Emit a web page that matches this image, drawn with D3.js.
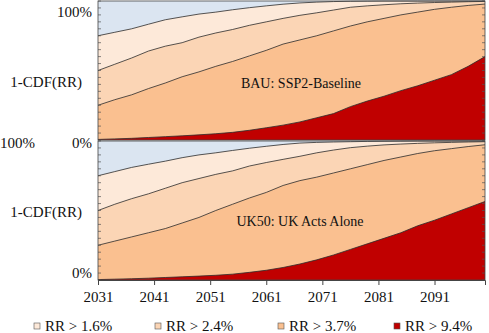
<!DOCTYPE html>
<html>
<head>
<meta charset="utf-8">
<script src="https://cdn.jsdelivr.net/npm/d3@7"></script>
<style>
  body { margin: 0; background: #fff; }
  svg text { font-family: "Liberation Serif", "Times New Roman", serif; fill: #111; }
</style>
</head>
<body>
<svg id="chart" width="489" height="333"></svg>
<script>
const width = 489;
const height = 333;

// years sampled every 3 years
const years = [2031, 2034, 2037, 2040, 2043, 2046, 2049, 2052, 2055, 2058, 2061, 2064,
               2067, 2070, 2073, 2076, 2079, 2082, 2085, 2088, 2091, 2094, 2097, 2100];
const xTicks = [2031, 2041, 2051, 2061, 2071, 2081, 2091];
const thresholds = ['RR > 1.6%', 'RR > 2.4%', 'RR > 3.7%', 'RR > 9.4%'];
const bandColors = ['#fde9d9', '#fbd5b5', '#fac090', '#c00000'];
const topColor = '#dbe5f1';

// BAU: SSP2-Baseline, 1-CDF(RR) for each threshold
const bau16 = [0.75, 0.775, 0.80, 0.833, 0.865, 0.886, 0.906, 0.92, 0.937, 0.952, 0.965, 0.977,
               0.986, 0.992, 0.996, 0.998, 0.999, 1, 1, 1, 1, 1, 1, 1];
const bau24 = [0.50, 0.545, 0.59, 0.64, 0.675, 0.70, 0.74, 0.77, 0.795, 0.825, 0.85, 0.875,
               0.897, 0.915, 0.935, 0.955, 0.965, 0.973, 0.98, 0.985, 0.989, 0.992, 0.995, 0.997];
const bau37 = [0.25, 0.29, 0.325, 0.37, 0.41, 0.455, 0.49, 0.53, 0.565, 0.605, 0.645, 0.69,
               0.72, 0.75, 0.785, 0.82, 0.85, 0.875, 0.90, 0.92, 0.94, 0.955, 0.968, 0.978];
const bau94 = [0.004, 0.008, 0.012, 0.018, 0.024, 0.03, 0.037, 0.045, 0.055, 0.07, 0.088, 0.107,
               0.13, 0.16, 0.19, 0.24, 0.28, 0.315, 0.355, 0.39, 0.43, 0.47, 0.53, 0.60];

// UK50: UK Acts Alone
const uk16 = [0.75, 0.78, 0.81, 0.833, 0.855, 0.88, 0.90, 0.915, 0.932, 0.948, 0.962, 0.975,
              0.985, 0.99, 0.993, 0.995, 0.997, 0.998, 0.999, 1, 1, 1, 1, 1];
const uk24 = [0.50, 0.545, 0.585, 0.62, 0.66, 0.70, 0.73, 0.76, 0.785, 0.82, 0.845, 0.868,
              0.89, 0.915, 0.935, 0.952, 0.963, 0.972, 0.978, 0.983, 0.987, 0.99, 0.993, 0.995];
const uk37 = [0.25, 0.28, 0.31, 0.34, 0.37, 0.41, 0.45, 0.50, 0.545, 0.59, 0.63, 0.68,
              0.715, 0.74, 0.77, 0.80, 0.83, 0.86, 0.885, 0.91, 0.93, 0.945, 0.96, 0.973];
const uk94 = [0.003, 0.006, 0.009, 0.013, 0.018, 0.023, 0.028, 0.034, 0.042, 0.055, 0.07, 0.09,
              0.115, 0.145, 0.18, 0.22, 0.26, 0.30, 0.34, 0.39, 0.43, 0.475, 0.52, 0.565];

const panels = [
  { label: 'BAU: SSP2-Baseline', series: [bau16, bau24, bau37, bau94], top: 1, bottom: 140, lx: 301, ly: 83 },
  { label: 'UK50: UK Acts Alone', series: [uk16, uk24, uk37, uk94], top: 141, bottom: 280, lx: 300, ly: 221 }
];

const svg = d3.select('#chart');

const x = d3.scaleLinear().domain([2031, 2100]).range([98, 485]);

panels.forEach(p => {
  const y = d3.scaleLinear().domain([0, 1]).range([p.bottom, p.top]);
  const g = svg.append('g');

  g.append('rect')
    .attr('x', x(2031)).attr('y', p.top)
    .attr('width', x(2100) - x(2031)).attr('height', p.bottom - p.top)
    .attr('fill', topColor);

  const area = d3.area()
    .x((d, i) => x(years[i]))
    .y0(y(0))
    .y1(d => y(d));
  const line = d3.line()
    .x((d, i) => x(years[i]))
    .y(d => y(d));

  p.series.forEach((s, k) => {
    g.append('path').attr('d', area(s)).attr('fill', bandColors[k]);
  });
  p.series.forEach(s => {
    g.append('path').attr('d', line(s))
      .attr('fill', 'none').attr('stroke', '#2b2b2b').attr('stroke-width', 0.8);
  });

  // minor + major ticks on both sides, pointing inward
  const ticks = d3.range(0, 1.0001, 0.05);
  g.selectAll('.lt').data(ticks).enter().append('line')
    .attr('x1', x(2031)).attr('x2', x(2031) + 3)
    .attr('y1', d => y(d)).attr('y2', d => y(d))
    .attr('stroke', '#555').attr('stroke-width', 0.7);
  g.selectAll('.rt').data(ticks).enter().append('line')
    .attr('x1', x(2100)).attr('x2', x(2100) - 3)
    .attr('y1', d => y(d)).attr('y2', d => y(d))
    .attr('stroke', '#555').attr('stroke-width', 0.7);

  g.append('rect')
    .attr('x', x(2031)).attr('y', p.top)
    .attr('width', x(2100) - x(2031)).attr('height', p.bottom - p.top)
    .attr('fill', 'none').attr('stroke', '#444').attr('stroke-width', 0.8);

  g.append('text').attr('x', p.lx).attr('y', p.ly).attr('dy', '0.35em')
    .attr('text-anchor', 'middle').attr('font-size', 14).text(p.label);
});

// y-axis texts
const yLabels = [
  { t: '100%', x: 92, y: 12 },
  { t: '1-CDF(RR)', x: 82, y: 82 },
  { t: '0%', x: 92, y: 143 },
  { t: '100%', x: 35, y: 143 },
  { t: '1-CDF(RR)', x: 82, y: 212 },
  { t: '0%', x: 92, y: 273 }
];
svg.selectAll('.yl').data(yLabels).enter().append('text')
  .attr('x', d => d.x).attr('y', d => d.y).attr('dy', '0.35em')
  .attr('text-anchor', 'end').attr('font-size', 15).text(d => d.t);

// x axis
const xAxis = d3.axisBottom(x).tickValues(xTicks).tickFormat(d3.format('d'))
  .tickSize(5).tickPadding(6);
const ax = svg.append('g').attr('transform', 'translate(0,280)').call(xAxis);
ax.select('.domain').attr('stroke', '#444');
ax.selectAll('.tick line').attr('stroke', '#444');
ax.selectAll('.tick text').attr('font-size', 15)
  .attr('font-family', '"Liberation Serif", "Times New Roman", serif').attr('fill', '#111');

// legend
const legendX = [34, 155, 278, 394];
const lg = svg.selectAll('.lg').data(thresholds).enter().append('g')
  .attr('transform', (d, i) => `translate(${legendX[i]},326)`);
lg.append('rect').attr('x', 0).attr('y', -3).attr('width', 6).attr('height', 6)
  .attr('fill', (d, i) => bandColors[i]).attr('stroke', '#555').attr('stroke-width', 0.6);
lg.append('text').attr('x', 11).attr('y', 0).attr('dy', '0.35em')
  .attr('font-size', 15).text(d => d);
</script>
</body>
</html>
